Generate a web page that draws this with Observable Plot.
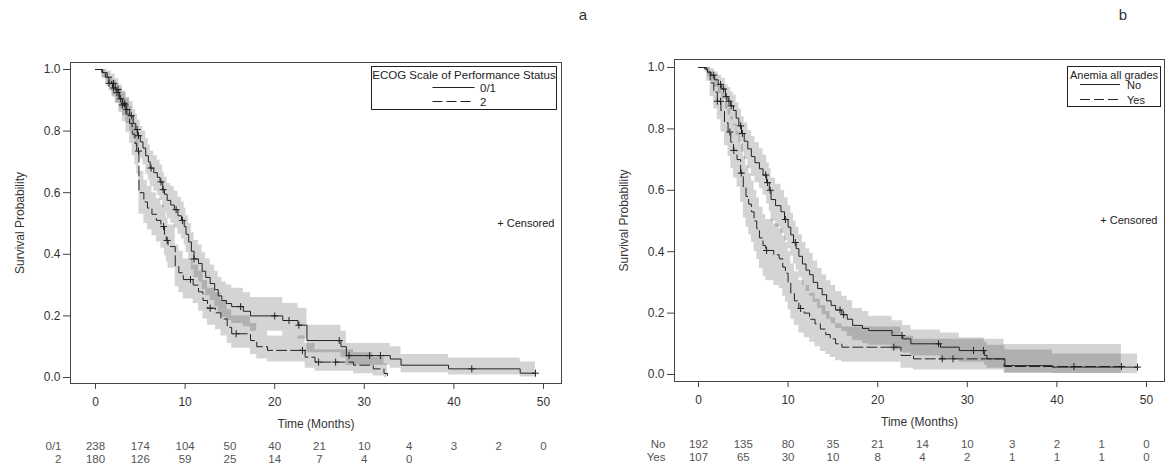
<!DOCTYPE html>
<html><head><meta charset="utf-8">
<script src="https://cdn.jsdelivr.net/npm/d3@7"></script>
<script src="https://cdn.jsdelivr.net/npm/@observablehq/plot@0.6"></script>
<style>
body{margin:0;background:#fff;font-family:"Liberation Sans",Arial,sans-serif}
#wrap{position:relative;width:1172px;height:469px;overflow:hidden}
#wrap > svg{position:absolute;top:0}
</style>
</head><body><div id="wrap"></div>
<script>
// ---------- Panel a : ECOG Scale of Performance Status ----------
const a01T  = [0,0.7,1.1,1.5,1.9,2.3,2.7,3.0,3.4,3.8,4.2,4.5,4.7,5.0,5.3,5.6,5.9,6.1,6.5,6.9,7.2,7.5,7.7,8.0,8.4,8.8,9.2,9.6,9.9,10.1,10.4,10.7,11.0,11.5,11.9,12.3,12.8,13.3,13.7,14.1,14.6,15.2,16.5,17.3,20.9,22.6,23.6,27.4,28.0,32.9,34.1,39.4,47.4,49.1];
const a01S  = [1,0.99,0.975,0.955,0.94,0.925,0.905,0.89,0.87,0.85,0.825,0.805,0.785,0.765,0.745,0.72,0.70,0.68,0.665,0.65,0.635,0.61,0.595,0.575,0.56,0.545,0.525,0.51,0.49,0.465,0.44,0.41,0.385,0.37,0.345,0.325,0.305,0.285,0.265,0.25,0.24,0.23,0.215,0.20,0.185,0.17,0.12,0.10,0.071,0.06,0.04,0.028,0.014,0.014];
const a01Lo = [1,0.975,0.955,0.93,0.91,0.89,0.87,0.85,0.825,0.80,0.775,0.75,0.73,0.71,0.69,0.66,0.64,0.62,0.605,0.59,0.575,0.55,0.535,0.515,0.50,0.485,0.465,0.45,0.43,0.405,0.38,0.35,0.325,0.31,0.285,0.265,0.25,0.23,0.21,0.195,0.185,0.175,0.165,0.15,0.135,0.125,0.08,0.065,0.04,0.03,0.015,0.008,0.002,0.002];
const a01Hi = [1,1,0.99,0.975,0.965,0.955,0.94,0.925,0.91,0.895,0.87,0.855,0.835,0.815,0.80,0.775,0.755,0.735,0.72,0.705,0.69,0.665,0.65,0.63,0.62,0.605,0.585,0.57,0.55,0.525,0.50,0.47,0.445,0.43,0.405,0.385,0.365,0.345,0.325,0.31,0.30,0.29,0.275,0.26,0.24,0.225,0.17,0.15,0.11,0.10,0.075,0.063,0.05,0.05];
const a2T  = [0,0.8,1.3,1.8,2.2,2.6,3.0,3.4,3.8,4.1,4.4,4.6,4.85,5.4,5.8,6.3,6.8,7.3,7.7,7.9,8.1,8.9,9.3,9.8,10.9,11.5,12.0,12.5,13.4,14.0,14.7,15.2,17.3,18.0,19.2,23.4,24.5,28.8,31.0,32.2,32.6];
const a2S  = [1,0.99,0.975,0.955,0.935,0.91,0.885,0.855,0.825,0.79,0.76,0.735,0.60,0.57,0.55,0.53,0.51,0.49,0.465,0.445,0.425,0.36,0.34,0.318,0.30,0.278,0.25,0.225,0.21,0.19,0.163,0.142,0.12,0.10,0.088,0.066,0.05,0.04,0.028,0.013,0.0];
const a2Lo = [1,0.97,0.945,0.915,0.89,0.86,0.83,0.795,0.76,0.72,0.69,0.66,0.53,0.50,0.48,0.46,0.44,0.42,0.395,0.375,0.355,0.295,0.275,0.255,0.24,0.215,0.19,0.17,0.155,0.135,0.11,0.095,0.075,0.06,0.05,0.03,0.02,0.012,0.005,0,0];
const a2Hi = [1,1,0.995,0.985,0.97,0.95,0.93,0.905,0.88,0.85,0.825,0.80,0.67,0.64,0.62,0.60,0.58,0.56,0.535,0.515,0.495,0.43,0.41,0.385,0.365,0.345,0.315,0.29,0.275,0.25,0.22,0.20,0.175,0.15,0.135,0.11,0.09,0.08,0.065,0.045,0.045];
const censA01 = [1.5,2.0,2.4,2.8,3.2,3.5,4.0,4.65,4.8,6.2,7.3,7.55,9.0,9.7,11.0,16.2,20.0,21.6,22.7,27.2,28.3,30.6,31.8,42.0,49.1];
const censA2 = [2.0,2.5,3.0,3.3,4.8,7.6,8.0,10.6,12.8,15.7,23.1,24.9,26.8];
const riskTimes = [0,5,10,15,20,25,30,35,40,45,50];
const riskA01 = [238,174,104,50,40,21,10,4,3,2,0];
const riskA2 = [180,126,59,25,14,7,4,0];

// ---------- Panel b : Anemia all grades ----------
const bNoT  = [0,0.7,1.0,1.4,1.8,2.2,2.6,3.0,3.3,3.6,3.9,4.2,4.5,4.8,5.1,5.5,5.9,6.3,6.8,7.2,7.6,7.9,8.1,8.6,9.2,9.6,10.0,10.3,10.6,10.9,11.2,11.6,12.0,12.4,12.8,13.3,13.8,14.3,14.8,15.3,16.0,16.6,17.2,18.3,19.0,21.6,22.8,23.7,27.0,29.1,31.9,32.2,34.2,39.5,49.0];
const bNoS  = [1,0.995,0.985,0.975,0.96,0.945,0.93,0.905,0.89,0.875,0.86,0.835,0.81,0.785,0.76,0.735,0.71,0.69,0.67,0.65,0.625,0.60,0.57,0.55,0.53,0.505,0.48,0.455,0.43,0.41,0.385,0.36,0.34,0.325,0.30,0.28,0.26,0.24,0.225,0.21,0.195,0.18,0.16,0.15,0.143,0.127,0.116,0.10,0.089,0.078,0.062,0.051,0.029,0.024,0.024];
const bNoLo = [1,0.985,0.97,0.955,0.935,0.915,0.895,0.865,0.845,0.83,0.81,0.78,0.755,0.725,0.70,0.67,0.645,0.625,0.605,0.585,0.555,0.53,0.50,0.48,0.46,0.435,0.41,0.385,0.36,0.34,0.315,0.29,0.27,0.255,0.235,0.215,0.195,0.18,0.165,0.15,0.14,0.125,0.11,0.10,0.095,0.08,0.07,0.06,0.05,0.04,0.03,0.02,0.006,0.003,0.003];
const bNoHi = [1,1,1,0.995,0.985,0.975,0.965,0.945,0.935,0.92,0.91,0.885,0.865,0.84,0.82,0.795,0.775,0.755,0.735,0.715,0.69,0.67,0.64,0.62,0.60,0.575,0.55,0.525,0.50,0.48,0.455,0.43,0.41,0.395,0.37,0.345,0.325,0.305,0.29,0.27,0.255,0.24,0.215,0.205,0.19,0.175,0.16,0.145,0.135,0.12,0.105,0.095,0.08,0.067,0.067];
const bYesT  = [0,0.9,1.3,1.7,2.1,2.5,2.9,3.3,3.6,3.9,4.3,4.7,5.0,5.3,5.6,5.9,6.2,6.5,6.8,7.2,7.5,8.4,9.0,9.4,9.7,10.0,10.3,10.7,11.2,11.8,12.4,13.0,13.6,14.2,14.7,15.3,16.0,22.6,24.0,34.1,47.2];
const bYesS  = [1,0.985,0.95,0.92,0.89,0.86,0.82,0.79,0.757,0.73,0.70,0.656,0.61,0.58,0.555,0.53,0.50,0.475,0.445,0.42,0.404,0.39,0.377,0.35,0.33,0.30,0.265,0.24,0.215,0.20,0.18,0.165,0.148,0.13,0.116,0.10,0.089,0.062,0.051,0.026,0.026];
const bYesLo = [1,0.955,0.905,0.865,0.83,0.79,0.745,0.71,0.67,0.64,0.61,0.56,0.51,0.48,0.455,0.43,0.40,0.375,0.345,0.32,0.305,0.29,0.28,0.255,0.235,0.21,0.18,0.16,0.135,0.12,0.105,0.09,0.075,0.065,0.055,0.045,0.04,0.02,0.015,0.003,0.003];
const bYesHi = [1,1,0.985,0.965,0.945,0.92,0.89,0.865,0.84,0.815,0.79,0.75,0.71,0.68,0.655,0.63,0.60,0.575,0.545,0.52,0.505,0.49,0.475,0.45,0.43,0.40,0.36,0.335,0.305,0.29,0.265,0.245,0.225,0.205,0.185,0.165,0.155,0.125,0.115,0.098,0.098];
const censBNo = [1.7,2.46,2.8,3.1,3.4,3.65,4.7,4.9,7.5,7.7,8.0,9.7,10.8,15.8,16.2,22.7,26.8,30.7,31.8,49.0];
const censBYes = [2.1,2.46,3.5,3.94,4.77,7.6,11.4,21.8,27.2,28.4,41.9,47.2];
const riskBNo = [192,135,80,35,21,14,10,3,2,1,0];
const riskBYes = [107,65,30,10,8,4,2,1,1,1,0];

// ---------- helpers ----------
const curveRows = (T, S, L, H) => T.map((t, i) => ({t, s: S[i], lo: L[i], hi: H[i]}));
function stepAt(T, S, t) { let v = S[0]; for (let i = 0; i < T.length; i++) if (T[i] <= t) v = S[i]; return v; }
const censRows = (C, T, S) => C.map(t => ({t, s: stepAt(T, S, t)}));
const riskRows = (R) => R.map((n, i) => ({t: riskTimes[i], n}));

const FONT = '"Liberation Sans", Arial, sans-serif';
const INK = "#222";
const DASH = "10,4";

function panel(o) {
  const r1 = curveRows(...o.c1), r2 = curveRows(...o.c2);
  return Plot.plot({
    width: 586, height: 469,
    marginLeft: o.ml, marginRight: o.mr, marginTop: o.mt, marginBottom: 469 - o.fb,
    style: {fontFamily: FONT, fontSize: "12px", color: "#333", background: "transparent"},
    x: {domain: o.xd},
    y: {domain: o.yd},
    marks: [
      Plot.areaY(r1, {x: "t", y1: "lo", y2: "hi", curve: "step-after", fill: "#000", fillOpacity: 0.17}),
      Plot.areaY(r2, {x: "t", y1: "lo", y2: "hi", curve: "step-after", fill: "#000", fillOpacity: 0.17}),
      Plot.line(r1, {x: "t", y: "s", curve: "step-after", stroke: INK, strokeWidth: 1}),
      Plot.line(r2, {x: "t", y: "s", curve: "step-after", stroke: INK, strokeWidth: 1, strokeDasharray: DASH}),
      Plot.dot(censRows(o.cens1, o.c1[0], o.c1[1]), {x: "t", y: "s", symbol: "plus", r: 2.4, stroke: INK, strokeWidth: 1}),
      Plot.dot(censRows(o.cens2, o.c2[0], o.c2[1]), {x: "t", y: "s", symbol: "plus", r: 2.4, stroke: INK, strokeWidth: 1}),
      Plot.frame({stroke: "#444"}),
      Plot.axisX({ticks: [0,10,20,30,40,50], tickSize: 6, tickPadding: 8, label: null, stroke: "#444", fill: "#333", fontSize: 12}),
      Plot.axisY({ticks: [0,0.2,0.4,0.6,0.8,1], tickFormat: d3.format(".1f"), tickSize: 7, tickPadding: 3, label: null, stroke: "#444", fill: "#333", fontSize: 12}),
      Plot.text(["Survival Probability"], {frameAnchor: "left", dx: o.ylabDx, rotate: -90, textAnchor: "middle", fontSize: 12, fill: "#333"}),
      Plot.text(["Time (Months)"], {frameAnchor: "bottom", dy: o.xlabDy, textAnchor: "middle", fontSize: 12, fill: "#333"}),
      Plot.text(["+ Censored"], {frameAnchor: "right", dx: -7, textAnchor: "end", fontSize: 11, fill: "#222"}),
      Plot.text(riskRows(o.r1), {x: "t", text: "n", frameAnchor: "bottom", dy: o.rowDy[0], fontSize: 11.5, fill: "#555"}),
      Plot.text(riskRows(o.r2), {x: "t", text: "n", frameAnchor: "bottom", dy: o.rowDy[1], fontSize: 11.5, fill: "#555"}),
      Plot.text([o.names[0]], {frameAnchor: "bottom-left", dx: -9, dy: o.rowDy[0], textAnchor: "end", fontSize: 11.5, fill: "#555"}),
      Plot.text([o.names[1]], {frameAnchor: "bottom-left", dx: -9, dy: o.rowDy[1], textAnchor: "end", fontSize: 11.5, fill: "#555"})
    ]
  });
}

const wrap = document.getElementById("wrap");
const svgA = panel({
  ml: 70, mr: 25, mt: 62, fb: 383,
  xd: [-2.79, 52.01], yd: [-0.0195, 1.0227],
  c1: [a01T, a01S, a01Lo, a01Hi], c2: [a2T, a2S, a2Lo, a2Hi],
  cens1: censA01, cens2: censA2,
  r1: riskA01, r2: riskA2, names: ["0/1", "2"],
  ylabDx: -50, xlabDy: 44, rowDy: [66, 79]
});
svgA.style.left = "0px";
wrap.appendChild(svgA);
const svgB = panel({
  ml: 88, mr: 8, mt: 59, fb: 381,
  xd: [-2.68, 52.01], yd: [-0.0228, 1.0261],
  c1: [bNoT, bNoS, bNoLo, bNoHi], c2: [bYesT, bYesS, bYesLo, bYesHi],
  cens1: censBNo, cens2: censBYes,
  r1: riskBNo, r2: riskBYes, names: ["No", "Yes"],
  ylabDx: -50, xlabDy: 44, rowDy: [66, 79]
});
svgB.style.left = "586px";
wrap.appendChild(svgB);

// ---------- overlay: panel letters and legends ----------
const ov = d3.select(wrap).append("svg").attr("width", 1172).attr("height", 469)
  .style("position", "absolute").style("left", 0).style("top", 0).style("font-family", FONT);
ov.append("text").attr("x", 583).attr("y", 20).attr("text-anchor", "middle").attr("font-size", 15).attr("fill", "#333").text("a");
ov.append("text").attr("x", 1123).attr("y", 20).attr("text-anchor", "middle").attr("font-size", 15).attr("fill", "#333").text("b");

function legend(box, title, fs, rows) {
  const g = ov.append("g");
  g.append("rect").attr("x", box[0]).attr("y", box[1]).attr("width", box[2]).attr("height", box[3])
    .attr("fill", "#fff").attr("stroke", "#222").attr("stroke-width", 1);
  g.append("text").attr("x", box[0] + box[2] / 2).attr("y", box[1] + 12).attr("text-anchor", "middle")
    .attr("font-size", fs).attr("fill", "#222").text(title);
  rows.forEach(r => {
    g.append("line").attr("x1", r.x1).attr("x2", r.x2).attr("y1", r.y).attr("y2", r.y)
      .attr("stroke", INK).attr("stroke-width", 1).attr("stroke-dasharray", r.dash ? DASH : null);
    g.append("text").attr("x", r.tx).attr("y", r.y + 4).attr("font-size", fs).attr("fill", "#222").text(r.label);
  });
}
legend([371.5, 66.5, 185, 43], "ECOG Scale of Performance Status", 11.5, [
  {x1: 432.5, x2: 474.5, y: 87.5, tx: 480, label: "0/1"},
  {x1: 432.5, x2: 474.5, y: 101.5, tx: 480, label: "2", dash: true}
]);
legend([1067.5, 66.5, 93, 40], "Anemia all grades", 11, [
  {x1: 1080, x2: 1120, y: 84.5, tx: 1127, label: "No"},
  {x1: 1080, x2: 1120, y: 99.5, tx: 1127, label: "Yes", dash: true}
]);
</script>
</body></html>
